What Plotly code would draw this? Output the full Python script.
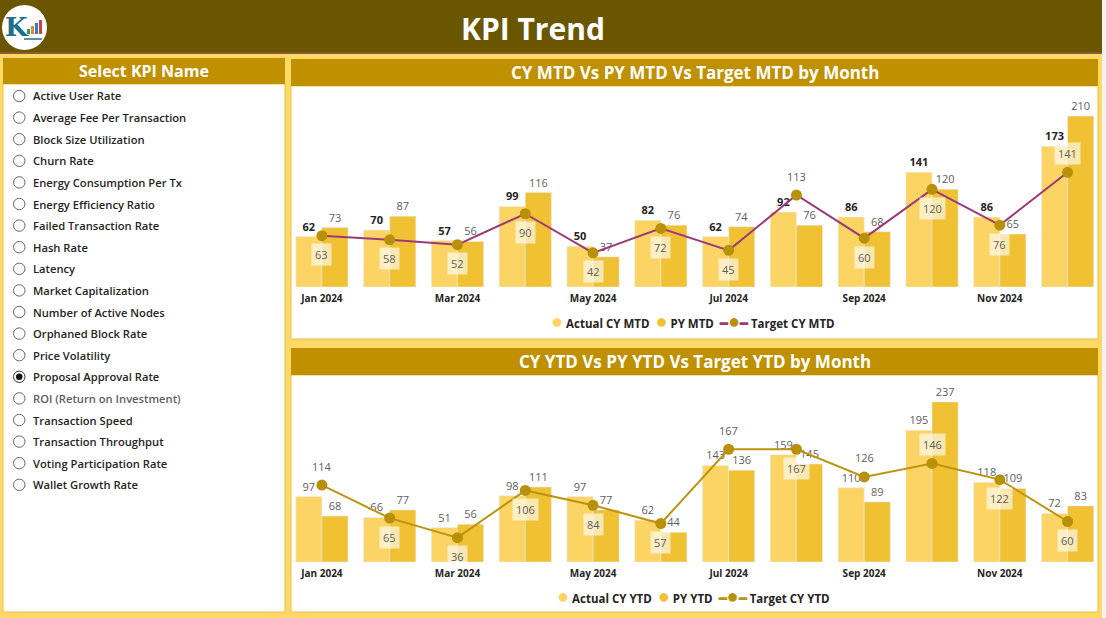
import plotly.graph_objects as go

# ---------------- data ----------------
months = ["Jan 2024", "Feb 2024", "Mar 2024", "Apr 2024", "May 2024", "Jun 2024",
          "Jul 2024", "Aug 2024", "Sep 2024", "Oct 2024", "Nov 2024", "Dec 2024"]
tick_months = months[::2]

mtd_actual = [62, 70, 57, 99, 50, 82, 62, 92, 86, 141, 86, 173]
mtd_py = [73, 87, 56, 116, 37, 76, 74, 76, 68, 120, 65, 210]
mtd_target = [63, 58, 52, 90, 42, 72, 45, 113, 60, 120, 76, 141]

ytd_actual = [97, 66, 51, 98, 97, 62, 143, 159, 110, 195, 118, 72]
ytd_py = [68, 77, 56, 111, 77, 44, 136, 145, 89, 237, 109, 83]
ytd_target = [114, 65, 36, 106, 84, 57, 167, 167, 126, 146, 122, 60]

kpi_names = ["Active User Rate", "Average Fee Per Transaction", "Block Size Utilization",
             "Churn Rate", "Energy Consumption Per Tx", "Energy Efficiency Ratio",
             "Failed Transaction Rate", "Hash Rate", "Latency", "Market Capitalization",
             "Number of Active Nodes", "Orphaned Block Rate", "Price Volatility",
             "Proposal Approval Rate", "ROI (Return on Investment)", "Transaction Speed",
             "Transaction Throughput", "Voting Participation Rate", "Wallet Growth Rate"]
selected_kpi = "Proposal Approval Rate"
muted_kpi = "ROI (Return on Investment)"

# label placement style (above / below marker) for the target line labels
mtd_label_side = ["b", "b", "b", "b", "b", "b", "b", "a", "b", "b", "b", "a"]
ytd_label_side = ["a", "b", "b", "b", "b", "b", "a", "b", "a", "a", "b", "b"]

# ---------------- style ----------------
W, H = 1106, 618
FONT = "Open Sans"
C_HEADER = "#6B5600"
C_BAND = "#BF9000"
C_PAGE = "#FFD966"
C_ACT = "#FBD464"
C_PY = "#F0C133"
C_MARK = "#B8900A"
C_LINE_TOP = "#9C3A78"
C_LINE_BOT = "#BB9512"
C_TEXT = "#252423"
C_GRAY = "#605E5C"


def fx(px):
    return px / W


def fy(py):
    return 1 - py / H


def txt(x, y, text, size, color, xanchor="center", weight=None, family=FONT):
    f = dict(size=size, color=color, family=family)
    if weight is not None:
        f["weight"] = weight
    return dict(x=fx(x), y=fy(y), xref="paper", yref="paper", text=text, showarrow=False,
                xanchor=xanchor, yanchor="middle", font=f)


fig = go.Figure()

# ---------- top chart ----------
fig.add_trace(go.Bar(x=months, y=mtd_actual, name="Actual CY MTD", marker_color=C_ACT,
                     text=mtd_actual, textposition="outside", cliponaxis=False,
                     constraintext="none",
                     textfont=dict(size=11, color=C_TEXT, family=FONT, weight="bold"),
                     xaxis="x", yaxis="y"))
fig.add_trace(go.Bar(x=months, y=mtd_py, name="PY MTD", marker_color=C_PY,
                     text=mtd_py, textposition="outside", cliponaxis=False,
                     constraintext="none",
                     textfont=dict(size=11, color=C_GRAY, family=FONT),
                     xaxis="x", yaxis="y"))
fig.add_trace(go.Scatter(x=months, y=mtd_target, name="Target CY MTD", mode="lines+markers",
                         line=dict(color=C_LINE_TOP, width=2),
                         marker=dict(color=C_MARK, size=11),
                         xaxis="x", yaxis="y", cliponaxis=False))

# ---------- bottom chart ----------
fig.add_trace(go.Bar(x=months, y=ytd_actual, name="Actual CY YTD", marker_color=C_ACT,
                     text=ytd_actual, textposition="outside", cliponaxis=False,
                     constraintext="none",
                     textfont=dict(size=11, color=C_GRAY, family=FONT),
                     xaxis="x2", yaxis="y2"))
fig.add_trace(go.Bar(x=months, y=ytd_py, name="PY YTD", marker_color=C_PY,
                     text=ytd_py, textposition="outside", cliponaxis=False,
                     constraintext="none",
                     textfont=dict(size=11, color=C_GRAY, family=FONT),
                     xaxis="x2", yaxis="y2"))
fig.add_trace(go.Scatter(x=months, y=ytd_target, name="Target CY YTD", mode="lines+markers",
                         line=dict(color=C_LINE_BOT, width=2),
                         marker=dict(color=C_MARK, size=11),
                         xaxis="x2", yaxis="y2", cliponaxis=False))

annotations = []
# target labels with pale boxes
for xa, ya, vals, sides in [("x", "y", mtd_target, mtd_label_side),
                            ("x2", "y2", ytd_target, ytd_label_side)]:
    for m, v, s in zip(months, vals, sides):
        annotations.append(dict(x=m, y=v, xref=xa, yref=ya, text=str(v), showarrow=False,
                                xanchor="center", yanchor="middle",
                                yshift=19 if s == "a" else -19,
                                font=dict(size=11, color=C_GRAY, family=FONT),
                                bgcolor="rgba(255,255,255,0.62)", borderpad=3))


# ---------- legends (circle swatches as in the original) ----------
def legend_text(names, line_col):
    dot = '<span style="color:{};font-size:20px">\u25CF</span>'
    seg = '<span style="color:{};font-size:13px">\u2501</span>'.format(line_col)
    parts = [dot.format(C_ACT) + " " + names[0], dot.format(C_PY) + " " + names[1],
             seg + dot.format(C_MARK) + seg + " " + names[2]]
    return "<b>" + "  ".join(parts) + "</b>"


annotations.append(txt(693, 320.5, legend_text(["Actual CY MTD", "PY MTD", "Target CY MTD"], C_LINE_TOP),
                       11.5, C_TEXT))
annotations.append(txt(693, 595.5, legend_text(["Actual CY YTD", "PY YTD", "Target CY YTD"], C_LINE_BOT),
                       11.5, C_TEXT))

# ---------- page decoration ----------
shapes = []
# header
shapes.append(dict(type="rect", xref="paper", yref="paper", x0=0, x1=fx(1102), y0=fy(52), y1=1,
                   fillcolor=C_HEADER, line_width=0, layer="below"))
shapes.append(dict(type="rect", xref="paper", yref="paper", x0=0, x1=fx(1102), y0=fy(54), y1=fy(52),
                   fillcolor="#8A5A35", line_width=0, layer="below"))
shapes.append(dict(type="rect", xref="paper", yref="paper", x0=fx(1102), x1=1, y0=0, y1=1,
                   fillcolor="#F3F3F3", line_width=0, layer="below"))
# logo
shapes.append(dict(type="circle", xref="paper", yref="paper", x0=fx(2), x1=fx(47), y0=fy(50), y1=fy(5),
                   fillcolor="white", line_width=0, layer="below"))
for bx, bh, bc in [(27, 5, "#2E9E5B"), (31, 8, "#E8862A"), (35, 11, "#2F7FC1"), (39, 14, "#D04040")]:
    shapes.append(dict(type="rect", xref="paper", yref="paper", x0=fx(bx), x1=fx(bx + 3),
                       y0=fy(34), y1=fy(34 - bh), fillcolor=bc, line_width=0, layer="below"))
shapes.append(dict(type="rect", xref="paper", yref="paper", x0=fx(24), x1=fx(42),
                   y0=fy(40), y1=fy(38), fillcolor="#5A8FB0", line_width=0, layer="below"))
annotations.append(txt(17, 27, "<b>K</b>", 26, "#1F6F8B", family="DejaVu Serif"))
annotations.append(txt(533, 28, "<b>KPI Trend</b>", 30, "white"))

# left panel
shapes.append(dict(type="rect", xref="paper", yref="paper", x0=fx(3), x1=fx(285), y0=fy(612), y1=fy(84),
                   fillcolor="white", line=dict(color="#E6C04A", width=1), layer="below"))
shapes.append(dict(type="rect", xref="paper", yref="paper", x0=fx(3), x1=fx(285), y0=fy(84), y1=fy(58),
                   fillcolor=C_BAND, line_width=0, layer="below"))
annotations.append(txt(144, 71, "<b>Select KPI Name</b>", 16, "white"))
for i, name in enumerate(kpi_names):
    cy = 96 + i * 21.6
    shapes.append(dict(type="circle", xref="paper", yref="paper", x0=fx(13.5), x1=fx(25),
                       y0=fy(cy + 5.7), y1=fy(cy - 5.7), fillcolor="white",
                       line=dict(color="#333333" if name == selected_kpi else "#666666", width=1)))
    if name == selected_kpi:
        shapes.append(dict(type="circle", xref="paper", yref="paper", x0=fx(16), x1=fx(22.5),
                           y0=fy(cy + 3.3), y1=fy(cy - 3.3), fillcolor="#111111", line_width=0))
    annotations.append(txt(31, cy, name, 11.2, C_GRAY if name == muted_kpi else C_TEXT,
                           xanchor="left", weight=600))

# chart panels
for top, band_top, bottom, title in [(86, 59, 339, "CY MTD Vs PY MTD Vs Target MTD by Month"),
                                     (375, 348, 612, "CY YTD Vs PY YTD Vs Target YTD by Month")]:
    shapes.append(dict(type="rect", xref="paper", yref="paper", x0=fx(291), x1=fx(1098),
                       y0=fy(bottom), y1=fy(top), fillcolor="white",
                       line=dict(color="#E6C04A", width=1), layer="below"))
    shapes.append(dict(type="rect", xref="paper", yref="paper", x0=fx(291), x1=fx(1098),
                       y0=fy(top), y1=fy(band_top), fillcolor=C_BAND, line_width=0, layer="below"))
    annotations.append(txt(695, (top + band_top) / 2, "<b>" + title + "</b>", 17, "white"))

xdom = [fx(288), fx(1101.5)]
xax = dict(domain=xdom, type="category", categoryorder="array", categoryarray=months,
           range=[-0.5, len(months) - 0.5],
           tickvals=tick_months, showgrid=False, zeroline=False, showline=False, ticks="",
           ticklabelstandoff=4,
           tickfont=dict(size=10, color=C_TEXT, family=FONT, weight="bold"), fixedrange=True)
yax = dict(showgrid=False, zeroline=False, showticklabels=False, fixedrange=True)

fig.update_layout(
    width=W, height=H, margin=dict(l=0, r=0, t=0, b=0),
    paper_bgcolor=C_PAGE, plot_bgcolor="rgba(0,0,0,0)",
    barmode="group", bargap=0.23, bargroupgap=0,
    font=dict(family=FONT, color=C_TEXT),
    xaxis=dict(xax, anchor="y"),
    yaxis=dict(yax, domain=[fy(287), fy(88)], range=[0, 244.5], anchor="x"),
    xaxis2=dict(xax, anchor="y2"),
    yaxis2=dict(yax, domain=[fy(562), fy(377)], range=[0, 274], anchor="x2"),
    showlegend=False,
    shapes=shapes, annotations=annotations,
)

fig.write_html("out.html", config={"displayModeBar": False},
               post_script="document.body.style.margin='0';document.body.style.overflow='hidden';")
